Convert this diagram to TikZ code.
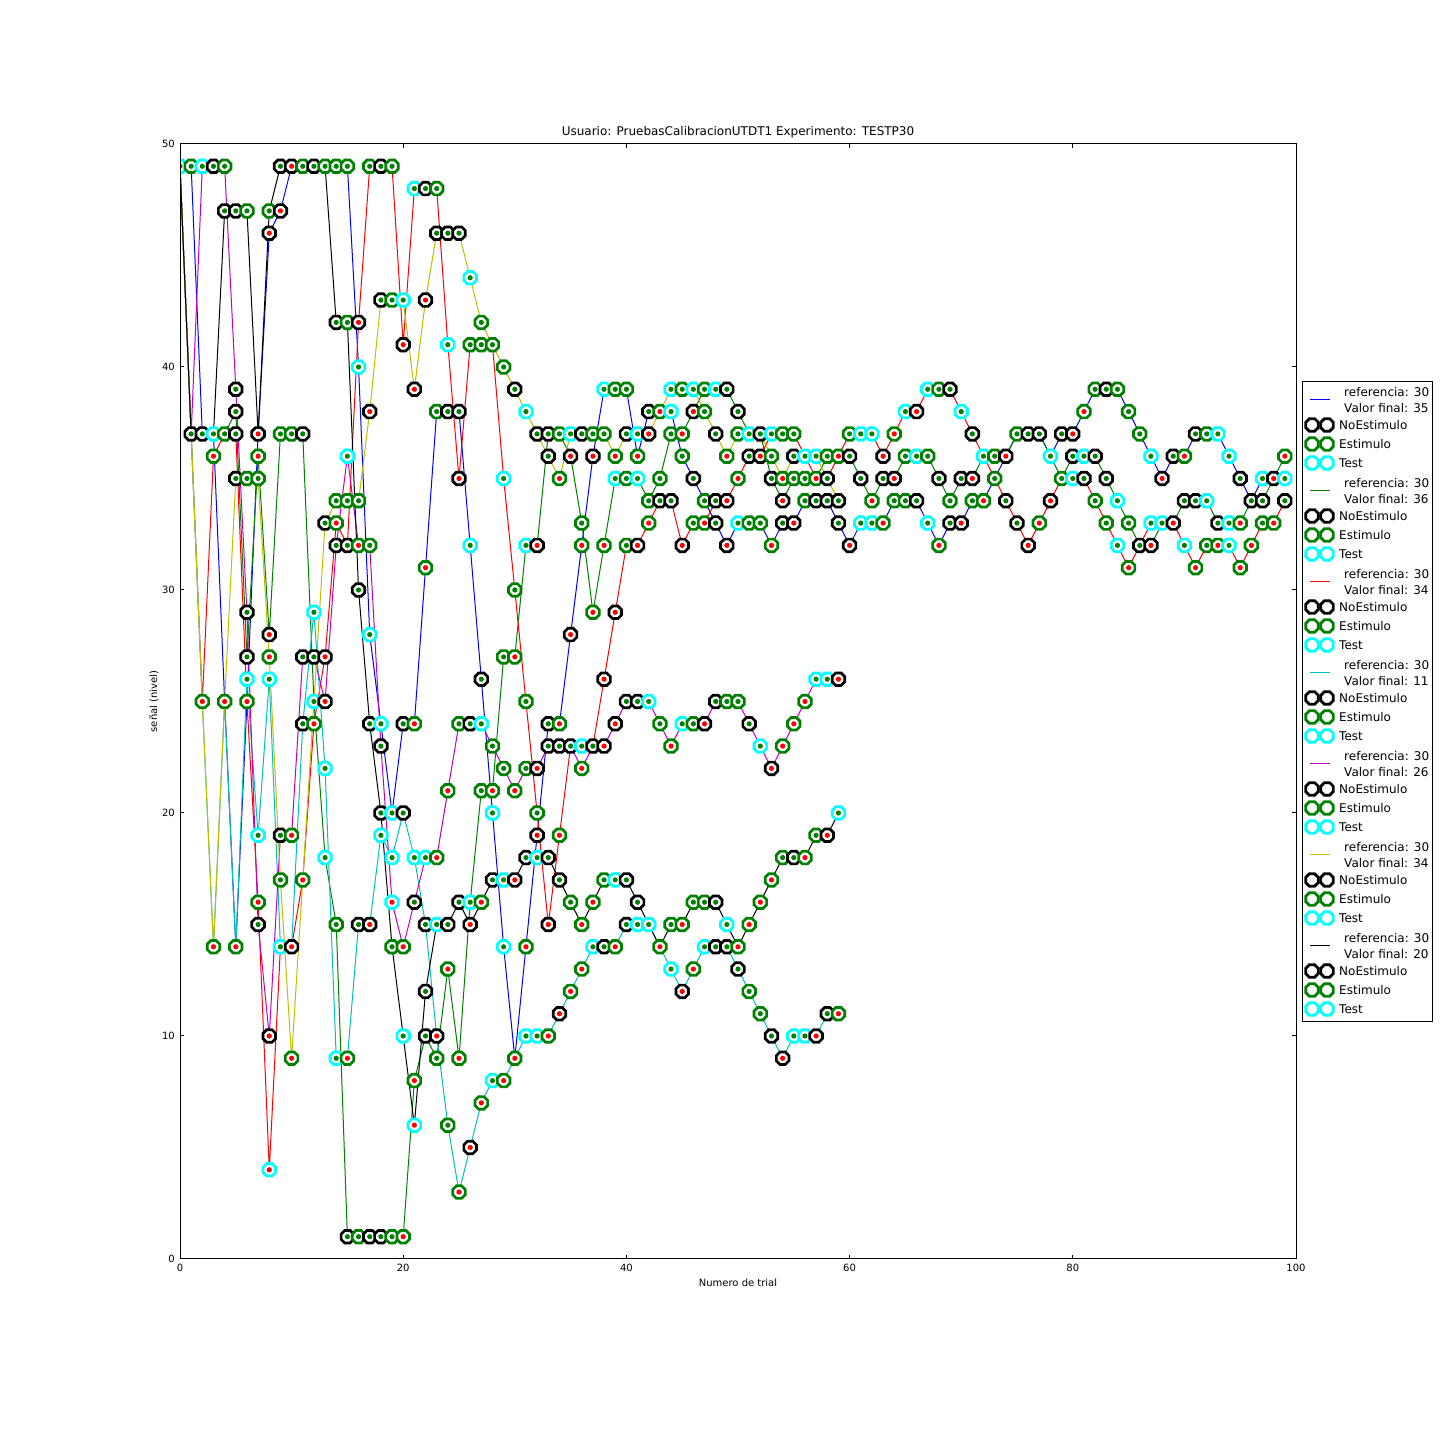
\documentclass[tikz,border=0pt]{standalone}
\usepackage{fontspec}
\setmainfont{DejaVu Sans}
\usepackage{xcolor}
% series colours
\definecolor{serB}{rgb}{0,0,1}
\definecolor{serG}{rgb}{0,0.5,0}
\definecolor{serR}{rgb}{1,0,0}
\definecolor{serC}{rgb}{0,0.75,0.75}
\definecolor{serM}{rgb}{0.75,0,0.75}
\definecolor{serY}{rgb}{0.75,0.75,0}
\definecolor{serK}{rgb}{0,0,0}
% marker edges and dots
\definecolor{Ek}{rgb}{0,0,0}
\definecolor{Eg}{rgb}{0,0.5,0}
\definecolor{Ec}{rgb}{0,1,1}
\definecolor{Dr}{rgb}{1,0,0}
\definecolor{Dg}{rgb}{0,0.5,0}
\tikzset{
trial/.style={line width=1pt},
octo/.style={line width=2.7pt, fill=white},
axisline/.style={line width=1pt},
ticklabel/.style={font=\fontsize{10}{12}\selectfont, inner sep=1pt},
legtext/.style={font=\fontsize{12}{16}\selectfont, inner sep=0pt, anchor=west, align=left},
}
\newcommand{\octoedge}[2]{%
  \draw[octo, draw=#2, shift={(#1)}] (22.5:6.8pt) -- (67.5:6.8pt) -- (112.5:6.8pt) -- (157.5:6.8pt)
    -- (202.5:6.8pt) -- (247.5:6.8pt) -- (292.5:6.8pt) -- (337.5:6.8pt) -- cycle;}
\newcommand{\octomark}[3]{%
  \octoedge{#1}{#2}
  \fill[#3, shift={(#1)}] (0,0) circle (2.6pt);}

\begin{document}
\begin{tikzpicture}[x=1pt,y=1pt]
\useasboundingbox (0,0) rectangle (1440,1440);
\begin{scope}[shift={(180,181)}, x=11.16pt, y=22.3pt]
\begin{scope}
\clip (0,0) rectangle (100,50);
% the staircases
\draw[trial, serB] (0,49) \foreach \lv [count=\tr] in {49,37,37,25,14,25,37,46,47,49,
  49,49,49,49,49,40,28,24,20,24, 24,31,38,38,38,32,26,20,14,9, 14,19,24,24,28,32,36,39,39,39,
  36,38,38,38,36,35,34,33,32,33, 33,33,32,33,33,34,34,34,33,32, 33,33,33,34,34,34,33,32,33,33,
  34,34,35,36,37,37,37,36,37,37, 38,39,39,39,38,37,36,35,36,36, 37,37,37,36,35,34,35,35,35} { -- (\tr,\lv) };
\draw[trial, serG] (0,49) \foreach \lv [count=\tr] in {37,37,37,37,38,27,36,28,37,37,
  37,25,18,15,1,1,1,1,1,1, 8,10,9,13,9,16,21,21,27,27, 32,32,37,37,36,33,29,32,35,35,
  35,34,35,37,37,38,39,39,39,38, 37,37,35,34,35,35,35,36,36,36, 35,34,35,35,36,36,36,35,34,35,
  35,36,36,36,37,37,37,36,35,36, 36,36,35,34,33,32,32,33,33,34, 34,34,33,33,33,34,34,35,36} { -- (\tr,\lv) };
\draw[trial, serR] (0,49) \foreach \lv [count=\tr] in {37,25,36,37,37,25,16,4,14,14,
  17,24,27,33,32,42,49,49,49,41, 48,48,48,41,35,41,41,41,35,30, 25,20,15,19,23,23,23,26,29,32,
  32,33,34,34,32,33,33,34,34,35, 36,36,37,37,37,36,35,35,36,37, 37,37,36,37,38,38,39,39,39,38,
  37,36,35,34,33,32,33,34,35,35, 35,34,33,32,31,32,33,33,33,32, 31,32,32,32,31,32,33,33,34} { -- (\tr,\lv) };
\draw[trial, serC] (0,49) \foreach \lv [count=\tr] in {37,25,14,25,14,26,19,26,14,14,
  24,29,22,9,9,15,15,19,18,20, 18,15,10,6,3,5,7,8,8,9, 10,10,10,11,12,13,14,14,14,15,
  15,15,14,13,12,13,14,14,14,13, 12,11,10,9,10,10,10,11,11} { -- (\tr,\lv) };
\draw[trial, serM] (0,49) \foreach \lv [count=\tr] in {37,49,49,49,39,29,15,10,19,19,
  27,27,25,32,36,32,32,23,16,14, 16,18,18,21,24,24,24,23,22,21, 22,22,23,23,23,22,23,23,24,25,
  25,25,24,23,24,24,24,25,25,25, 24,23,22,23,24,25,26,26,26} { -- (\tr,\lv) };
\draw[trial, serY] (0,49) \foreach \lv [count=\tr] in {37,25,14,25,35,35,35,27,17,9,
  17,25,33,34,34,34,38,43,43,43, 39,43,46,46,46,44,42,41,40,39, 38,37,36,35,37,37,37,37,36,37,
  37,37,38,39,39,39,38,37,36,37, 37,37,36,35,36,36,36,35,34} { -- (\tr,\lv) };
\draw[trial, serK] (0,49) \foreach \lv [count=\tr] in {37,37,37,47,47,47,37,47,49,49,
  49,49,49,42,42,30,24,20,14,10, 6,12,15,15,16,15,16,17,17,17, 18,18,18,17,16,15,16,17,17,17,
  16,15,14,15,15,16,16,16,15,14, 15,16,17,18,18,18,19,19,20} { -- (\tr,\lv) };
% the markers
\foreach \tr/\lv/\mE/\mD in {0/49/c/g,
  1/49/g/g, 1/37/k/g, 2/49/c/g, 2/37/k/g, 2/25/g/r,
  3/49/k/g, 3/37/c/g, 3/36/g/r, 3/14/g/r, 4/49/g/g, 4/47/k/g, 4/37/g/g, 4/25/g/r,
  5/47/k/g, 5/39/k/g, 5/38/k/g, 5/37/k/g, 5/35/k/g, 5/14/g/r,
  6/47/g/g, 6/35/g/g, 6/29/k/g, 6/27/k/g, 6/26/c/g, 6/25/g/r,
  7/37/k/r, 7/36/g/r, 7/35/g/g, 7/19/c/g, 7/16/g/r, 7/15/k/g,
  8/47/g/g, 8/46/k/r, 8/28/k/r, 8/27/g/r, 8/26/c/g, 8/10/k/r, 8/4/c/r,
  9/49/k/g, 9/47/k/r, 9/37/g/g, 9/19/k/g, 9/17/g/g, 9/14/c/g,
  10/49/k/r, 10/37/g/g, 10/19/g/r, 10/14/k/r, 10/9/g/r,
  11/49/g/g, 11/37/k/g, 11/27/k/g, 11/24/k/g, 11/17/g/r,
  12/49/k/g, 12/29/c/g, 12/27/k/g, 12/25/c/g, 12/24/g/r,
  13/49/g/g, 13/33/k/g, 13/27/k/r, 13/25/k/r, 13/22/c/g, 13/18/c/g,
  14/49/g/g, 14/42/k/g, 14/34/g/g, 14/33/g/r, 14/32/k/g, 14/15/g/g, 14/9/c/g,
  15/49/g/g, 15/42/g/g, 15/36/c/g, 15/34/g/g, 15/32/k/g, 15/9/g/r, 15/1/k/g,
  16/42/k/r, 16/40/c/g, 16/34/g/g, 16/32/g/r, 16/30/k/g, 16/15/k/g, 16/1/g/g,
  17/49/g/g, 17/38/k/r, 17/32/g/g, 17/28/c/g, 17/24/k/g, 17/15/k/r, 17/1/k/g,
  18/49/k/g, 18/43/k/g, 18/24/c/g, 18/23/k/g, 18/20/k/g, 18/19/c/g, 18/1/k/g,
  19/49/g/g, 19/43/g/g, 19/20/c/g, 19/18/c/g, 19/16/c/r, 19/14/g/g, 19/1/g/g,
  20/43/c/g, 20/41/k/r, 20/24/k/g, 20/20/k/g, 20/14/g/r, 20/10/c/g, 20/1/g/r,
  21/48/c/g, 21/39/k/r, 21/24/g/r, 21/18/c/g, 21/16/k/g, 21/8/g/r, 21/6/c/r,
  22/48/k/g, 22/43/k/r, 22/31/g/r, 22/18/c/g, 22/15/k/g, 22/12/k/g, 22/10/k/g,
  23/48/g/g, 23/46/k/g, 23/38/g/g, 23/18/g/r, 23/15/c/g, 23/10/k/r, 23/9/g/g,
  24/46/k/g, 24/41/c/g, 24/38/k/g, 24/21/g/r, 24/15/k/g, 24/13/g/r, 24/6/g/g,
  25/46/k/g, 25/38/k/g, 25/35/k/r, 25/24/g/g, 25/16/k/g, 25/9/g/r, 25/3/g/r,
  26/44/c/g, 26/41/g/g, 26/32/c/g, 26/24/k/g, 26/16/c/g, 26/15/k/r, 26/5/k/r,
  27/42/g/g, 27/41/g/g, 27/26/k/g, 27/24/c/g, 27/21/g/g, 27/16/g/r, 27/7/g/r,
  28/41/g/g, 28/23/g/g, 28/21/g/r, 28/20/c/g, 28/17/k/g, 28/8/c/g,
  29/40/g/g, 29/35/c/g, 29/27/g/g, 29/22/g/g, 29/17/c/g, 29/14/c/g, 29/8/g/r,
  30/39/k/g, 30/30/g/g, 30/27/g/r, 30/21/g/r, 30/17/k/r, 30/9/g/r,
  31/38/c/g, 31/32/c/g, 31/25/g/g, 31/22/g/g, 31/18/k/g, 31/14/g/r, 31/10/c/g,
  32/37/k/g, 32/32/k/r, 32/22/k/r, 32/20/g/g, 32/19/k/r, 32/18/c/g, 32/10/c/g,
  33/37/k/g, 33/36/k/g, 33/24/k/g, 33/23/k/g, 33/18/k/g, 33/15/k/r, 33/10/g/r,
  34/37/g/g, 34/35/g/r, 34/24/g/r, 34/23/k/g, 34/19/g/r, 34/17/k/g, 34/11/k/r,
  35/37/c/g, 35/36/k/r, 35/28/k/r, 35/23/k/g, 35/16/g/g, 35/12/g/r,
  36/37/k/g, 36/33/g/g, 36/32/g/r, 36/23/c/g, 36/22/g/r, 36/15/g/r, 36/13/g/r,
  37/37/g/g, 37/36/k/r, 37/29/g/r, 37/23/k/g, 37/16/g/r, 37/14/c/g,
  38/39/c/g, 38/37/g/g, 38/32/g/r, 38/26/k/r, 38/23/k/r, 38/17/g/g, 38/14/k/g,
  39/39/g/g, 39/36/g/r, 39/35/c/g, 39/29/k/r, 39/24/k/r, 39/17/c/g, 39/14/g/r,
  40/39/g/g, 40/37/k/g, 40/35/g/g, 40/32/g/g, 40/25/k/g, 40/17/k/g, 40/15/k/g,
  41/37/c/g, 41/36/g/r, 41/35/c/g, 41/32/k/r, 41/25/k/g, 41/16/k/g, 41/15/c/g,
  42/38/k/g, 42/37/k/r, 42/34/g/g, 42/33/g/r, 42/25/c/g, 42/15/c/g,
  43/38/g/r, 43/35/g/g, 43/34/k/g, 43/24/g/g, 43/14/g/r,
  44/39/c/g, 44/38/c/g, 44/37/g/g, 44/34/k/g, 44/23/g/r, 44/15/g/g, 44/13/c/g,
  45/39/g/g, 45/37/g/r, 45/36/g/g, 45/32/k/r, 45/24/c/g, 45/15/g/r, 45/12/k/r,
  46/39/c/g, 46/38/k/r, 46/35/k/g, 46/33/g/g, 46/24/g/g, 46/16/g/g, 46/13/g/r,
  47/39/g/g, 47/38/g/g, 47/34/g/g, 47/33/g/r, 47/24/k/r, 47/16/g/g, 47/14/c/g,
  48/39/c/g, 48/37/k/g, 48/34/k/g, 48/33/k/g, 48/25/k/g, 48/16/k/g, 48/14/k/g,
  49/39/k/g, 49/36/g/r, 49/34/k/r, 49/32/k/r, 49/25/g/g, 49/15/c/g, 49/14/k/g,
  50/38/k/g, 50/37/g/g, 50/35/g/r, 50/33/c/g, 50/25/g/g, 50/14/g/r, 50/13/k/g,
  51/37/c/g, 51/36/k/g, 51/33/g/g, 51/24/k/g, 51/15/g/r, 51/12/g/g,
  52/37/k/g, 52/36/k/r, 52/33/g/g, 52/23/c/g, 52/16/g/r, 52/11/g/g,
  53/37/c/g, 53/36/g/g, 53/35/k/g, 53/32/g/r, 53/22/k/r, 53/17/g/r, 53/10/k/g,
  54/37/g/g, 54/35/g/r, 54/34/k/r, 54/33/k/g, 54/23/g/r, 54/18/g/g, 54/9/k/r,
  55/37/g/g, 55/36/k/g, 55/35/g/g, 55/33/k/r, 55/24/g/r, 55/18/k/g, 55/10/c/g,
  56/36/c/g, 56/35/g/g, 56/34/g/g, 56/25/g/r, 56/18/g/r, 56/10/c/g,
  57/36/c/g, 57/35/g/r, 57/34/k/g, 57/26/c/g, 57/19/g/g, 57/10/k/r,
  58/36/g/g, 58/35/k/g, 58/34/k/g, 58/26/c/g, 58/19/k/r, 58/11/k/g,
  59/36/g/r, 59/34/k/g, 59/33/k/g, 59/26/k/r, 59/20/c/g, 59/11/g/r,
  60/37/g/g, 60/36/k/g, 60/32/k/r, 61/37/c/g, 61/35/k/g, 61/33/c/g,
  62/37/c/g, 62/34/g/r, 62/33/c/g, 63/36/k/r, 63/35/k/g, 63/33/g/r,
  64/37/g/r, 64/35/k/r, 64/34/g/g, 65/38/c/g, 65/36/g/g, 65/34/g/g,
  66/38/k/r, 66/36/c/g, 66/34/k/g, 67/39/c/g, 67/36/g/g, 67/33/c/g,
  68/39/g/g, 68/35/k/g, 68/32/g/r, 69/39/k/g, 69/34/g/g, 69/33/k/g,
  70/38/c/g, 70/35/k/g, 70/33/k/r, 71/37/k/g, 71/35/k/r, 71/34/g/g,
  72/36/c/g, 72/34/g/r, 73/36/g/g, 73/35/g/g, 74/36/k/r, 74/34/k/g,
  75/37/g/g, 75/33/k/g, 76/37/k/g, 76/32/k/r, 77/37/k/g, 77/33/g/r,
  78/36/c/g, 78/34/k/r, 79/37/k/g, 79/35/g/g, 80/37/k/r, 80/36/k/g, 80/35/c/g,
  81/38/g/r, 81/36/c/g, 81/35/k/g, 82/39/g/g, 82/36/k/g, 82/34/g/g,
  83/39/k/g, 83/35/k/g, 83/33/g/g, 84/39/g/g, 84/34/c/g, 84/32/c/g,
  85/38/g/g, 85/33/g/g, 85/31/g/r, 86/37/g/g, 86/32/k/g,
  87/36/c/g, 87/33/c/g, 87/32/k/r, 88/35/k/r, 88/33/c/g, 89/36/k/g, 89/33/k/r,
  90/36/g/r, 90/34/k/g, 90/32/c/g, 91/37/k/g, 91/34/k/g, 91/31/g/r,
  92/37/g/g, 92/34/c/g, 92/32/g/g, 93/37/c/g, 93/33/k/g, 93/32/g/r,
  94/36/c/g, 94/33/c/g, 94/32/c/g, 95/35/k/g, 95/33/g/r, 95/31/g/r,
  96/34/k/g, 96/32/g/r, 97/35/c/g, 97/34/k/g, 97/33/g/g,
  98/35/k/r, 98/33/g/r, 99/36/g/r, 99/35/c/g, 99/34/k/g}
{
  \edef\ecol{E\mE}\edef\dcol{D\mD}
  \octomark{\tr,\lv}{\ecol}{\dcol}
}
\end{scope}
% the frame and ticks
\draw[axisline] (0,0) rectangle (100,50);
\foreach \tr in {0,20,...,100}
{
  \draw[axisline] (\tr,0) -- ++(0,4pt);
  \draw[axisline] (\tr,50) -- ++(0,-4pt);
  \node[ticklabel, anchor=north, yshift=-4pt] (xt\tr) at (\tr,0) {\tr};
}
\foreach \lv in {0,10,...,50}
{
  \draw[axisline] (0,\lv) -- ++(4pt,0);
  \draw[axisline] (100,\lv) -- ++(-4pt,0);
  \node[ticklabel, anchor=east, xshift=-4pt] (yt\lv) at (0,\lv) {\lv};
}
\node[font=\fontsize{12}{14}\selectfont, anchor=base, yshift=8pt, inner sep=0pt] (title) at (50,50)
  {Usuario: PruebasCalibracionUTDT1 Experimento: TESTP30};
\node[font=\fontsize{10}{12}\selectfont, anchor=base, yshift=-28pt, inner sep=0pt] (xlab) at (50,0) {Numero de trial};
\node[font=\fontsize{10}{12}\selectfont, rotate=90, inner sep=0pt] (ylab) at ([xshift=-26pt]0,25) {señal (nivel)};
\end{scope}
% the legend
\draw[line width=1pt] (1302,418) rectangle (1432,1058);
\foreach \col/\val [count=\i from 0] in {serB/35, serG/36, serR/34, serC/11, serM/26, serY/34, serK/20}
{
  \pgfmathsetmacro\gy{1048-91*\i}
  \draw[trial, \col] (1310,\gy-8) -- (1330,\gy-8);
  \node[legtext] (ref\i) at (1344,\gy-8) {referencia: 30\\Valor final: \val};
  \octoedge{1312,\gy-33}{Ek} \octoedge{1327,\gy-33}{Ek}
  \node[legtext] (noe\i) at (1339,\gy-33) {NoEstimulo};
  \octoedge{1312,\gy-52}{Eg} \octoedge{1327,\gy-52}{Eg}
  \node[legtext] (est\i) at (1339,\gy-52) {Estimulo};
  \octoedge{1312,\gy-71}{Ec} \octoedge{1327,\gy-71}{Ec}
  \node[legtext] (tst\i) at (1339,\gy-71) {Test};
}
\end{tikzpicture}
\end{document}
